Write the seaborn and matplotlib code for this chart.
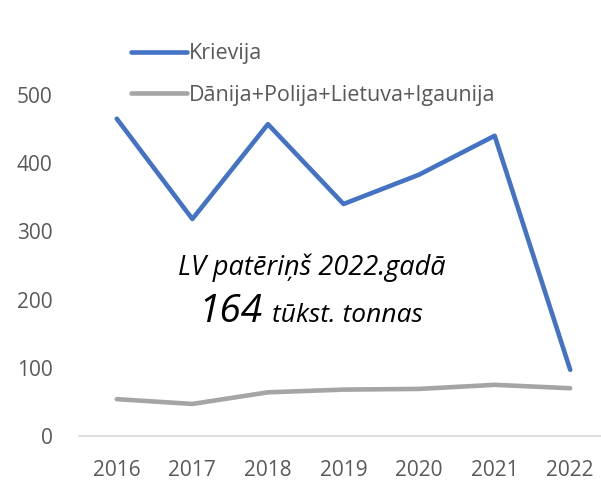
"""Latvian imports chart: Russia vs. neighbouring countries, 2016-2022."""

import matplotlib
matplotlib.use("Agg")
import matplotlib.pyplot as plt
import pandas as pd
import seaborn as sns

years = ["2016", "2017", "2018", "2019", "2020", "2021", "2022"]
krievija = [465, 318, 457, 340, 383, 440, 97]
kaiminvalstis = [54, 47, 64, 68, 69, 75, 70]
series_names = ["Krievija", "Dānija+Polija+Lietuva+Igaunija"]
series_colors = ["#4472C4", "#A5A5A5"]
y_ticks = [0, 100, 200, 300, 400, 500]


def main() -> None:
    sns.set_theme(style="white")
    plt.rcParams["font.family"] = ["Open Sans", "DejaVu Sans"]

    df = pd.DataFrame(
        {
            "year": years * 2,
            "value": krievija + kaiminvalstis,
            "series": [series_names[0]] * len(years) + [series_names[1]] * len(years),
        }
    )

    fig = plt.figure(figsize=(6.01, 4.87), dpi=100)
    ax = fig.add_axes([79 / 601, 51 / 487, 529 / 601, 436 / 487])
    sns.lineplot(
        data=df,
        x="year",
        y="value",
        hue="series",
        palette=dict(zip(series_names, series_colors)),
        linewidth=3.3,
        solid_capstyle="round",
        solid_joinstyle="round",
        ax=ax,
    )

    ax.set_xlim(-0.5, 6.5)
    ax.set_ylim(0, 639)
    ax.set_yticks(y_ticks)
    ax.set_xlabel("")
    ax.set_ylabel("")
    grey = "#595959"
    ax.tick_params(axis="both", length=0, labelsize=15, colors=grey)
    ax.tick_params(axis="y", pad=19)
    ax.tick_params(axis="x", pad=17)
    for side in ["top", "right", "left"]:
        ax.spines[side].set_visible(False)
    ax.spines["bottom"].set_color("#D9D9D9")
    ax.spines["bottom"].set_linewidth(1.2)

    leg = ax.legend(
        loc="upper left",
        bbox_to_anchor=(0.062, 0.945),
        frameon=False,
        fontsize=15.5,
        handlelength=2.6,
        handletextpad=0.1,
        labelspacing=0.95,
        borderaxespad=0.5,
    )
    for text in leg.get_texts():
        text.set_color(grey)
    for line in leg.get_lines():
        line.set_linewidth(3.3)
        line.set_solid_capstyle("round")

    ax.text(0.44, 0.369, "LV patēriņš 2022.gadā", transform=ax.transAxes,
            ha="center", va="baseline", fontsize=19.5, style="italic", color="black")
    ax.text(0.346, 0.261, "164", transform=ax.transAxes,
            ha="right", va="baseline", fontsize=28, style="italic", color="black")
    ax.text(0.365, 0.261, "tūkst. tonnas", transform=ax.transAxes,
            ha="left", va="baseline", fontsize=19, style="italic", color="black")

    fig.savefig("out.png", dpi=100)
    plt.close(fig)


if __name__ == "__main__":
    main()
